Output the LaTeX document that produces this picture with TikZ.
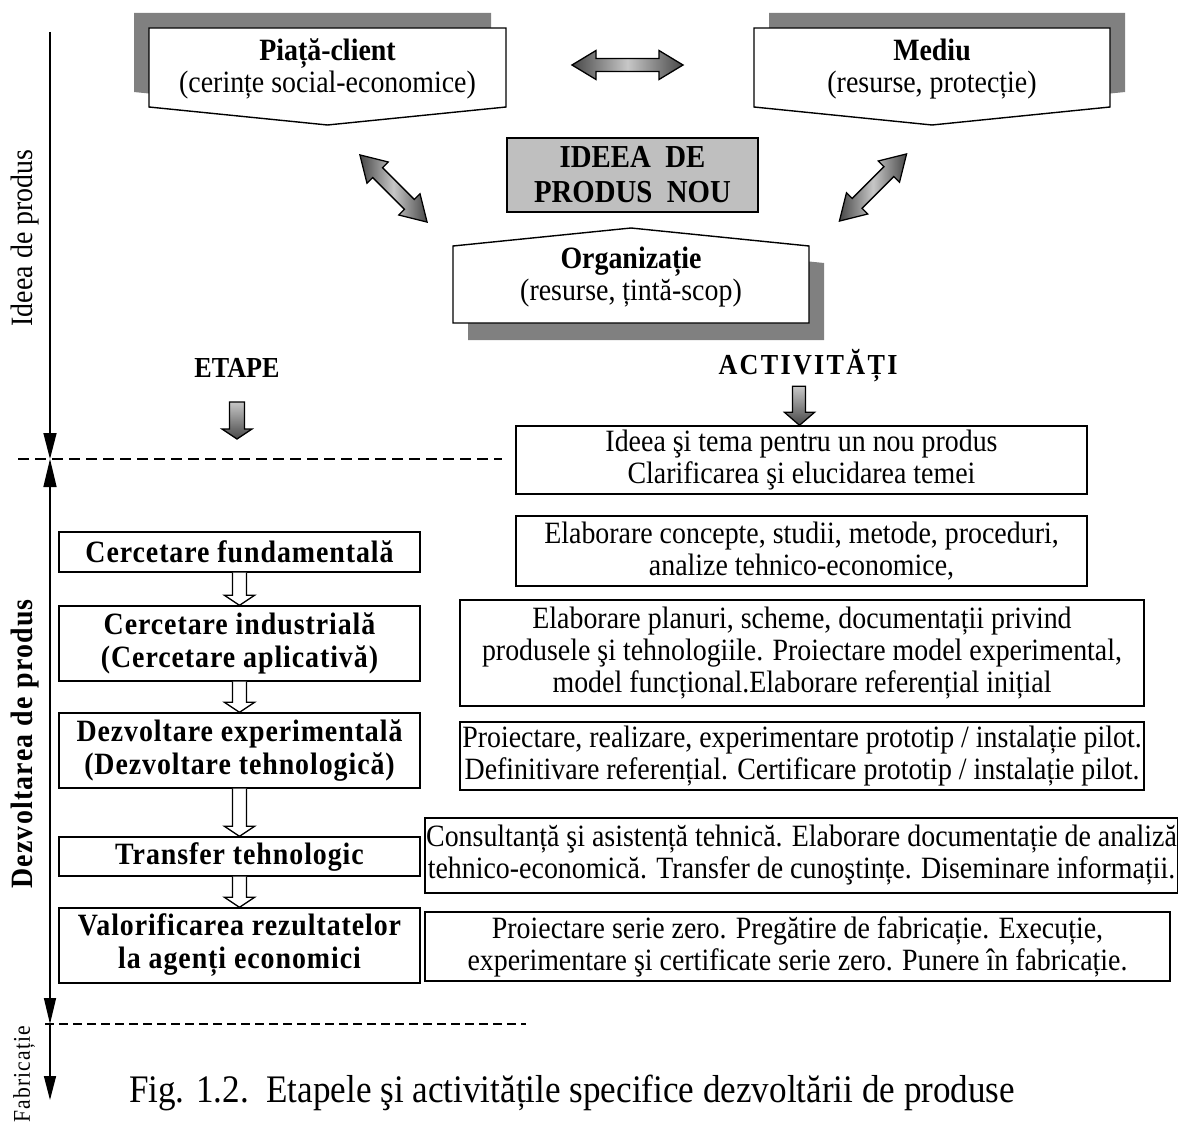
\documentclass[tikz,border=0pt]{standalone}
\usepackage{fontspec}
\setmainfont{Liberation Serif}[FakeStretch=0.9]
\newfontfamily\spacedserif{Liberation Serif}[FakeStretch=0.9, LetterSpace=3]
\newfontfamily\headserif{Liberation Serif}[FakeStretch=0.9, LetterSpace=8]
\newfontfamily\widespaced{Liberation Serif}[FakeStretch=0.9, LetterSpace=4]
\newfontfamily\verywide{Liberation Serif}[FakeStretch=0.9, LetterSpace=5]
\usetikzlibrary{arrows.meta,calc}
\begin{document}
\begin{tikzpicture}[x=1pt,y=-1pt,
  body/.style={font=\fontsize{31}{32}\selectfont},
  actbox/.style={draw, line width=1.4pt, fill=white, inner sep=0pt, align=center, body},
  stagebox/.style={draw, line width=1.4pt, fill=white, inner sep=0pt, align=center,
    font=\fontsize{31}{33}\selectfont\spacedserif\bfseries, minimum width=361pt},
  panel/.style={draw, line width=1.4pt, fill=white},
  shadowfill/.style={fill=black!50},
  greyarrow/.style={draw, line width=1.3pt, left color=black!72, right color=black!72, middle color=black!22},
  downarrow/.style={draw, line width=1.3pt, top color=black!22, bottom color=black!72},
  whitearrow/.style={draw, line width=1.3pt, fill=white},
  divider/.style={line width=1.6pt, dash pattern=on 11pt off 6pt},
  axis/.style={line width=1.5pt},
  heading/.style={font=\fontsize{29}{32}\selectfont\bfseries}
]
\fill[white] (0,0) rectangle (1178,1129);
\useasboundingbox (0,0) rectangle (1178,1129);

% ---------- top: market, environment, organisation ----------
\fill[shadowfill, shift={(-15,-15)}] (149,28) -- (506,28) -- (506,107) -- (327.5,125) -- (149,107) -- cycle;
\draw[panel] (149,28) -- (506,28) -- (506,107) -- (327.5,125) -- (149,107) -- cycle;
\node[body, align=center] (piata) at (327.5,69) {\textbf{Piață-client}\\(cerințe social-economice)};

\fill[shadowfill, shift={(15,-15)}] (754,28) -- (1110,28) -- (1110,107) -- (932,125) -- (754,107) -- cycle;
\draw[panel] (754,28) -- (1110,28) -- (1110,107) -- (932,125) -- (754,107) -- cycle;
\node[body, align=center] (mediu) at (932,69) {\textbf{Mediu}\\(resurse, protecție)};

\node[draw, line width=1.6pt, fill=black!25, minimum width=251pt, minimum height=74pt,
  inner sep=0pt, align=center, font=\fontsize{32}{35}\selectfont\bfseries] (idea) at (632.5,175)
  {IDEEA\ \ DE\\PRODUS\ \ NOU};

\fill[shadowfill, shift={(15,17)}] (453,246) -- (631,228) -- (809,246) -- (809,323) -- (453,323) -- cycle;
\draw[panel] (453,246) -- (631,228) -- (809,246) -- (809,323) -- (453,323) -- cycle;
\node[body, align=center] (org) at (631,277) {\textbf{Organizație}\\(resurse, țintă-scop)};

% ---------- grey double arrows ----------
\shade[greyarrow] (572,65) -- (596,50.5) -- (596,58.5) -- (659,58.5) -- (659,50.5) -- (683,65)
  -- (659,79.5) -- (659,71.5) -- (596,71.5) -- (596,79.5) -- cycle;
\begin{scope}[shift={(393.5,188.5)}, rotate=-45]
  \shade[greyarrow] (-47.5,0) -- (-22.5,15) -- (-22.5,7) -- (22.5,7) -- (22.5,15) -- (47.5,0)
    -- (22.5,-15) -- (22.5,-7) -- (-22.5,-7) -- (-22.5,-15) -- cycle;
\end{scope}
\begin{scope}[shift={(873,187.5)}, rotate=45]
  \shade[greyarrow] (-47.5,0) -- (-22.5,15) -- (-22.5,7) -- (22.5,7) -- (22.5,15) -- (47.5,0)
    -- (22.5,-15) -- (22.5,-7) -- (-22.5,-7) -- (-22.5,-15) -- cycle;
\end{scope}

% ---------- column headings ----------
\node[heading] (etape) at (237,368) {ETAPE};
\node[heading, font=\fontsize{29}{32}\selectfont\headserif\bfseries] (activ) at (808,366) {ACTIVITĂȚI};
\shade[downarrow] (229.5,402) -- (244.5,402) -- (244.5,429) -- (252,429) -- (237,439) -- (222,429) -- (229.5,429) -- cycle;

% ---------- activities ----------
\node[actbox, minimum width=571pt, minimum height=68pt] (a1) at (801.5,460)
  {Ideea şi tema pentru un nou produs\\Clarificarea şi elucidarea temei};
\node[actbox, minimum width=571pt, minimum height=70pt] (a2) at (801.5,551)
  {Elaborare concepte, studii, metode, proceduri,\\analize tehnico-economice,};
\node[actbox, minimum width=684pt, minimum height=106pt] (a3) at (802,653)
  {Elaborare planuri, scheme, documentații privind\\produsele şi tehnologiile. Proiectare model experimental,\\model funcțional.Elaborare referențial inițial};
\node[actbox, minimum width=684pt, minimum height=68pt] (a4) at (802,756)
  {Proiectare, realizare, experimentare prototip / instalație pilot.\\Definitivare referențial. Certificare prototip / instalație pilot.};
\node[actbox, minimum width=753pt, minimum height=75pt] (a5) at (801.5,855.5)
  {Consultanță şi asistență tehnică. Elaborare documentație de analiză\\tehnico-economică. Transfer de cunoştințe. Diseminare informații.};
\node[actbox, minimum width=745pt, minimum height=69pt] (a6) at (797.5,946.5)
  {Proiectare serie zero. Pregătire de fabricație. Execuție,\\experimentare şi certificate serie zero. Punere în fabricație.};

\shade[downarrow] ($(a1.north)+(-9,-39)$) -- ($(a1.north)+(4,-39)$) -- ($(a1.north)+(4,-13)$)
  -- ($(a1.north)+(13,-13)$) -- ($(a1.north)+(-2,0)$) -- ($(a1.north)+(-17,-13)$)
  -- ($(a1.north)+(-9,-13)$) -- cycle;

% ---------- stages ----------
\node[stagebox, minimum height=40pt] (s1) at (239.5,552) {Cercetare fundamentală};
\node[stagebox, minimum height=75pt] (s2) at (239.5,643.5) {Cercetare industrială\\(Cercetare aplicativă)};
\node[stagebox, minimum height=75pt] (s3) at (239.5,750.5) {Dezvoltare experimentală\\(Dezvoltare tehnologică)};
\node[stagebox, minimum height=39pt] (s4) at (239.5,856.5) {Transfer tehnologic};
\node[stagebox, minimum height=75pt] (s5) at (239.5,945.5) {Valorificarea rezultatelor\\la agenți economici};

\foreach \a/\b in {s1/s2,s2/s3,s3/s4,s4/s5}
  \draw[whitearrow] ($(\a.south)+(-7,0)$) -- ($(\b.north)+(-7,-10)$) -- ($(\b.north)+(-15,-10)$)
    -- (\b.north) -- ($(\b.north)+(15,-10)$) -- ($(\b.north)+(7,-10)$) -- ($(\a.south)+(7,0)$);

% ---------- phase axis and dividers ----------
\coordinate (ax0) at (50,32);
\coordinate (ax1) at (50,459);
\coordinate (ax2) at (50,1024);
\coordinate (ax3) at (50,1100);
\coordinate (d1a) at (18,459);
\coordinate (d1b) at (502,459);
\coordinate (d2a) at (45,1024);
\coordinate (d2b) at (526,1024);
\draw[divider] (d1a) -- (d1b);
\draw[line width=1.4pt, dash pattern=on 9pt off 5pt] (d2a) -- (d2b);
\draw[axis, -{Triangle[length=26pt,width=13pt]}] (ax0) -- (ax1);
\draw[axis, {Triangle[length=28pt,width=13pt]}-{Triangle[length=26pt,width=12pt]}] (ax1) -- (ax2);
\draw[axis, -{Triangle[length=24pt,width=12pt]}] (ax2) -- (ax3);

\node[rotate=90, font=\fontsize{31}{34}\selectfont] (lblidea) at (25,238) {Ideea de produs};
\node[rotate=90, font=\fontsize{31}{34}\selectfont\widespaced\bfseries] (lbldev) at (25,744) {Dezvoltarea de produs};
\node[rotate=90, font=\fontsize{24}{26}\selectfont\verywide] (lblfab) at (24,1074) {Fabricație};

% ---------- caption ----------
\node[font=\fontsize{39}{44}\selectfont] (caption) at (572,1093)
  {Fig. 1.2.\ \ Etapele şi activitățile specifice dezvoltării de produse};
\end{tikzpicture}
\end{document}
